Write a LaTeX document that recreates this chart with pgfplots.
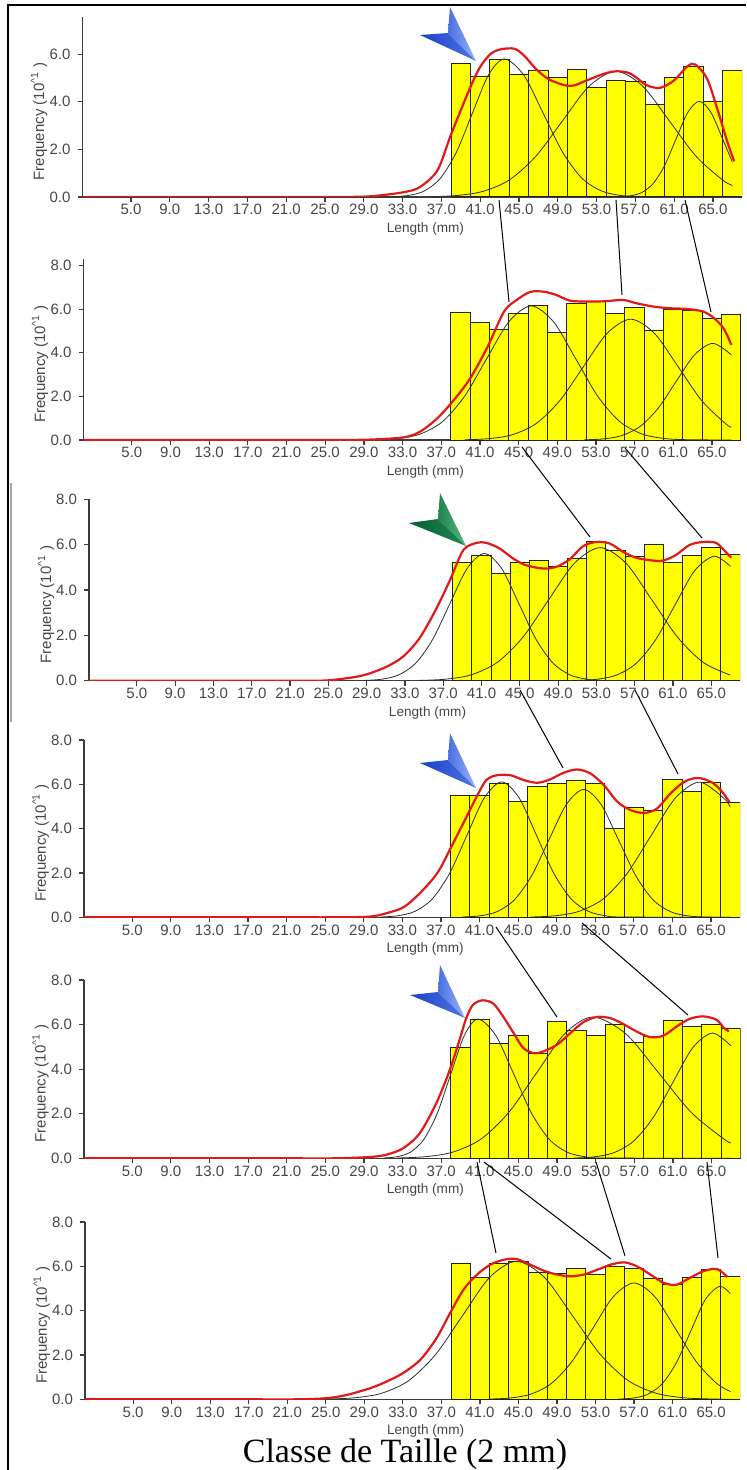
\documentclass[border=0pt]{standalone}
\usepackage{pgfplots}
\pgfplotsset{compat=1.18}
\usepackage{pgfplotstable}
\usepackage{fontspec}
\setmainfont{Liberation Sans}
\newfontfamily\seriffont{Liberation Serif}

\definecolor{axgray}{RGB}{60,60,60}
\definecolor{lblgray}{RGB}{70,70,70}
\definecolor{baryellow}{RGB}{255,255,0}
\definecolor{barline}{RGB}{35,35,10}
\definecolor{fitred}{RGB}{225,25,25}
\definecolor{compblack}{RGB}{45,45,45}
\definecolor{blueD}{RGB}{25,65,200}
\definecolor{blueL}{RGB}{150,180,255}
\definecolor{greenD}{RGB}{0,95,50}
\definecolor{greenL}{RGB}{80,185,125}

% bar heights, one column per panel (top to bottom), bins of 2 mm
\pgfplotstableread{
x  p1   p2   p3   p4   p5   p6
39 5.61 5.84 5.21 5.48 4.95 6.15
41 5.08 5.38 5.54 5.48 6.25 5.48
43 5.78 5.08 4.73 6.04 5.17 6.15
45 5.16 5.81 5.21 5.21 5.50 6.23
47 5.32 6.15 5.29 5.92 4.72 5.70
49 5.02 4.94 5.02 6.04 6.14 5.67
51 5.37 6.27 5.39 6.19 5.72 5.90
53 4.59 6.35 6.12 6.04 5.52 5.63
55 4.89 5.81 5.76 4.01 6.02 6.00
57 4.86 6.07 5.49 4.95 5.20 5.90
59 3.88 5.02 6.02 4.80 5.45 5.44
61 5.02 5.99 5.21 6.23 6.17 5.17
63 5.50 5.96 5.54 5.69 5.92 5.48
65 4.03 5.58 5.87 6.07 6.02 5.88
67 5.32 5.76 5.58 5.17 5.84 5.52
}\bars

\pgfplotsset{
  lenpanel/.style={
    scale only axis,
    xmin=0, xmax=68, ymin=0,
    axis x line*=bottom, axis y line*=left,
    axis line style={-, draw=axgray, line width=0.7pt},
    tick align=outside,
    major tick length=2.5pt,
    tick style={axgray, line width=0.6pt},
    xtick={5,9,...,65},
    ytick={0,2,...,8},
    tick label style={font=\fontsize{7.5}{9}\selectfont, text=lblgray},
    xticklabel style={inner sep=1pt},
    /pgf/number format/fixed,
    /pgf/number format/fixed zerofill,
    /pgf/number format/precision=1,
    /pgf/number format/assume math mode=true,
    xlabel={Length (mm)},
    xlabel style={font=\fontsize{6.8}{8}\selectfont, text=lblgray, inner sep=0.5pt,
      at={(axis description cs:0.52,-0.178)}, anchor=center},
    ylabel={Frequency (10\textsuperscript{\textasciicircum1} )},
    ylabel style={font=\fontsize{7.5}{9}\selectfont, text=lblgray,
      at={(axis description cs:-0.066,0.42)}, anchor=center},
    no markers,
  },
  barplot/.style={ybar, bar width=2, bar shift=0pt, fill=baryellow, draw=barline, line width=0.5pt},
  fit/.style={fitred, line width=1.1pt, smooth, tension=0.5},
  comp/.style={compblack, line width=0.4pt, smooth},
}

\newcommand{\arrowhead}[6]{%
  \shade[left color=#5, right color=#5!55!#6] #1 -- #4 -- #3 -- cycle;
  \shade[left color=#5!60!#6, right color=#6] #2 -- #4 -- #3 -- cycle;}

\begin{document}
\begin{tikzpicture}

% ---------- panel 1 ----------
\begin{axis}[lenpanel, at={(41.25pt,-98.5pt)}, anchor=south west,
  width=329.75pt, height=90pt, ymax=7.56]
\addplot[barplot] table[x=x, y=p1] {\bars};
\addplot[comp] coordinates {(31.95,0.013) (33.6,0.064) (35.25,0.255) (36.9,0.785) (38.55,1.883) (40.2,3.518) (41.85,5.119) (43.5,5.8) (45.5,5.119) (47.5,3.518) (49.5,1.883) (51.5,0.785) (53.5,0.255) (55.5,0.064) (57.5,0.013) (59.5,0.002) (67,0)};
\addplot[comp] coordinates {(35.75,0.012) (38.5,0.059) (41.25,0.232) (44,0.714) (46.75,1.714) (49.5,3.202) (52.25,4.66) (55,5.28) (57.75,4.66) (60.5,3.202) (63.25,1.714) (66,0.714) (67,0.489)};
\addplot[comp] coordinates {(54,0.001) (55.2,0.009) (56.4,0.045) (57.6,0.176) (58.8,0.544) (60,1.305) (61.2,2.438) (62.4,3.548) (63.6,4.02) (64.8,3.548) (66,2.438) (67,1.474)};
\addplot[fit] coordinates {(0,0) (20,0) (26,0) (29.7,0.03) (33.1,0.2) (34.8,0.42) (36.6,1.12) (37.9,2.52) (39.0,3.64) (40.0,4.62) (41.0,5.46) (42.1,6.02) (43.1,6.2) (44.5,6.23) (45.5,5.95) (46.9,5.32) (48.3,4.9) (50.3,4.66) (52.0,4.9) (53.8,5.18) (55.1,5.28) (56.5,5.18) (58.2,4.69) (59.6,4.59) (61.0,4.9) (62.4,5.5) (63.2,5.56) (64.4,4.97) (65.5,3.64) (66.5,2.3) (67.2,1.5)};
\end{axis}

% ---------- panel 2 ----------
\begin{axis}[lenpanel, at={(41.75pt,-220pt)}, anchor=south west,
  width=328.75pt, height=90.5pt, ymax=8.3]
\addplot[barplot] table[x=x, y=p2] {\bars};
\addplot[comp] coordinates {(30.2,0.014) (32.5,0.068) (34.8,0.27) (37.1,0.832) (39.4,1.997) (41.7,3.73) (44,5.427) (46.3,6.15) (48.6,5.427) (50.9,3.73) (53.2,1.997) (55.5,0.832) (57.8,0.27) (60.1,0.068) (62.4,0.014) (67,0)};
\addplot[comp] coordinates {(39.45,0.012) (41.9,0.061) (44.35,0.243) (46.8,0.75) (49.25,1.799) (51.7,3.36) (54.15,4.889) (56.6,5.54) (59.05,4.889) (61.5,3.36) (63.95,1.799) (66.4,0.75) (67,0.583)};
\addplot[comp] coordinates {(51.8,0.01) (53.7,0.049) (55.6,0.194) (57.5,0.599) (59.4,1.438) (61.3,2.687) (63.2,3.909) (65.1,4.43) (67,3.909)};
\addplot[fit] coordinates {(0,0) (20,0) (26,0) (29.7,0.02) (33.1,0.12) (34.8,0.38) (36.6,1.0) (38.3,1.83) (40.0,2.83) (41.8,4.28) (43.5,5.89) (44.8,6.42) (46.2,6.79) (47.6,6.8) (48.9,6.65) (50.3,6.39) (52.0,6.35) (53.8,6.36) (55.8,6.42) (57.2,6.27) (58.9,6.12) (60.7,6.04) (62.4,6.01) (64.1,5.89) (65.1,5.63) (66.2,5.12) (67.0,4.36)};
\end{axis}

% ---------- panel 3 ----------
\begin{axis}[lenpanel, at={(44.5pt,-340.35pt)}, anchor=south west,
  width=325.5pt, height=90.7pt, ymax=8]
\addplot[barplot] table[x=x, y=p3] {\bars};
\addplot[comp] coordinates {(28.7,0.012) (30.5,0.062) (32.3,0.246) (34.1,0.759) (35.9,1.822) (37.7,3.402) (39.5,4.951) (41.3,5.61) (43.1,4.951) (44.9,3.402) (46.7,1.822) (48.5,0.759) (50.3,0.246) (52.1,0.062) (53.9,0.012) (67,0)};
\addplot[comp] coordinates {(34.5,0.013) (37.2,0.065) (39.9,0.258) (42.6,0.794) (45.3,1.906) (48,3.56) (50.7,5.18) (53.4,5.87) (56.1,5.18) (58.8,3.56) (61.5,1.906) (64.2,0.794) (67,0.246)};
\addplot[comp] coordinates {(50.95,0.012) (53,0.061) (55.05,0.241) (57.1,0.743) (59.15,1.783) (61.2,3.33) (63.25,4.845) (65.3,5.49) (67,5.04)};
\addplot[fit] coordinates {(0,0) (18,0) (24,0) (26,0.06) (28,0.18) (29.3,0.32) (31.1,0.62) (32.8,1.06) (34.5,1.86) (36.2,3.11) (37.7,4.43) (39.1,5.76) (40.5,6.08) (41.5,6.08) (42.9,5.83) (44.3,5.39) (45.6,5.1) (47.4,4.95) (48.8,5.02) (50.2,5.35) (51.6,5.93) (53.0,6.12) (54.4,6.05) (55.8,5.68) (57.1,5.43) (58.5,5.32) (59.9,5.29) (61.3,5.54) (62.7,5.98) (64.1,6.12) (65.5,6.08) (66.5,5.68) (67.1,5.43)};
\end{axis}

% ---------- panel 4 ----------
\begin{axis}[lenpanel, at={(42pt,-458.65pt)}, anchor=south west,
  width=328pt, height=88.65pt, ymax=8]
\addplot[barplot] table[x=x, y=p4] {\bars};
\addplot[comp] coordinates {(30.7,0.013) (32.5,0.068) (34.3,0.268) (36.1,0.827) (37.9,1.984) (39.7,3.706) (41.5,5.392) (43.3,6.11) (45.1,5.392) (46.9,3.706) (48.7,1.984) (50.5,0.827) (52.3,0.268) (54.1,0.068) (55.9,0.013) (67,0)};
\addplot[comp] coordinates {(39.2,0.013) (41,0.064) (42.8,0.253) (44.6,0.781) (46.4,1.874) (48.2,3.5) (50,5.092) (51.8,5.77) (53.6,5.092) (55.4,3.5) (57.2,1.874) (59,0.781) (60.8,0.253) (62.6,0.064) (64.4,0.013) (67,0.001)};
\addplot[comp] coordinates {(46.3,0.013) (48.8,0.068) (51.3,0.268) (53.8,0.825) (56.3,1.981) (58.8,3.7) (61.3,5.383) (63.8,6.1) (66.3,5.383) (67,4.97)};
\addplot[fit] coordinates {(0,0) (20,0) (26,0) (29.6,0.03) (31.3,0.18) (33.1,0.45) (34.8,1.08) (36.6,1.98) (37.9,3.03) (39.3,4.23) (40.7,5.44) (41.7,6.19) (42.8,6.41) (44.2,6.41) (45.6,6.19) (47.0,6.07) (48.3,6.22) (49.7,6.52) (51.1,6.67) (52.5,6.49) (53.9,5.96) (55.3,5.21) (56.7,4.83) (58.1,4.71) (59.4,4.91) (60.8,5.59) (62.2,6.11) (63.6,6.29) (65.0,6.11) (66.0,5.74) (66.9,5.21)};
\end{axis}

% ---------- panel 5 ----------
\begin{axis}[lenpanel, at={(42pt,-579.15pt)}, anchor=south west,
  width=328.25pt, height=89.15pt, ymax=8]
\addplot[barplot] table[x=x, y=p5] {\bars};
\addplot[comp] coordinates {(31.0,0.014) (32.4,0.069) (33.8,0.274) (35.2,0.846) (36.6,2.029) (38.0,3.791) (39.4,5.516) (40.8,6.25) (42.65,5.516) (44.5,3.791) (46.35,2.029) (48.2,0.846) (50.05,0.274) (51.9,0.069) (53.75,0.014) (67,0)};
\addplot[comp] coordinates {(32.4,0.014) (35.3,0.07) (38.2,0.278) (41.1,0.858) (44,2.059) (46.9,3.845) (49.8,5.595) (52.7,6.34) (56.1,5.595) (59.5,3.845) (62.9,2.059) (66.3,0.858) (67,0.695)};
\addplot[comp] coordinates {(50.75,0.012) (52.8,0.062) (54.85,0.247) (56.9,0.76) (58.95,1.825) (61,3.409) (63.05,4.96) (65.1,5.62) (67,5.05)};
\addplot[fit] coordinates {(0,0) (20,0) (26,0) (29.6,0.06) (31.3,0.16) (33.1,0.46) (34.8,1.14) (36.5,2.48) (37.9,3.98) (38.9,5.32) (39.6,6.29) (40.3,6.89) (41.3,7.09) (42.4,6.94) (43.4,6.37) (44.5,5.62) (45.5,4.95) (46.6,4.72) (47.6,4.8) (49.0,5.1) (50.3,5.59) (51.7,6.1) (53.1,6.34) (54.5,6.29) (55.8,6.04) (57.2,5.7) (58.6,5.44) (60.0,5.5) (61.4,5.92) (62.7,6.25) (64.1,6.37) (65.5,6.22) (66.3,5.84) (66.8,5.7)};
\end{axis}

% ---------- panel 6 ----------
\begin{axis}[lenpanel, at={(42.5pt,-699.65pt)}, anchor=south west,
  width=327.5pt, height=88.65pt, ymax=8]
\addplot[barplot] table[x=x, y=p6] {\bars};
\addplot[comp] coordinates {(25.2,0.014) (28,0.069) (30.8,0.273) (33.6,0.843) (36.4,2.023) (39.2,3.779) (42,5.498) (44.8,6.23) (47.7,5.498) (50.6,3.779) (53.5,2.023) (56.4,0.843) (59.3,0.273) (62.2,0.069) (65.1,0.014) (67,0.003)};
\addplot[comp] coordinates {(41.95,0.012) (44.1,0.058) (46.25,0.23) (48.4,0.71) (50.55,1.705) (52.7,3.184) (54.85,4.633) (57,5.25) (59.15,4.633) (61.3,3.184) (63.45,1.705) (65.6,0.71) (67,0.351)};
\addplot[comp] coordinates {(55.4,0.011) (56.9,0.057) (58.4,0.224) (59.9,0.69) (61.4,1.656) (62.9,3.093) (64.4,4.501) (65.9,5.1) (67,4.77)};
\addplot[fit] coordinates {(0,0) (16,0) (22,0) (25,0.05) (27,0.18) (29.6,0.5) (31.3,0.8) (33.0,1.18) (34.8,1.78) (36.5,2.76) (37.9,3.89) (39.3,4.95) (40.7,5.63) (42.1,6.08) (43.5,6.3) (44.8,6.33) (46.2,6.08) (47.6,5.81) (49.0,5.63) (50.4,5.55) (51.8,5.63) (53.2,5.85) (54.6,6.08) (56.0,6.18) (57.3,6.0) (58.7,5.63) (60.1,5.25) (61.4,5.17) (62.8,5.48) (64.2,5.78) (65.6,5.88) (66.7,5.52)};
\end{axis}

% ---------- annotations (pixel grid of the original figure) ----------
\begin{scope}[x=0.5pt, y=-0.5pt]
  % frame
  \draw[black, line width=1pt] (8,1470) -- (8,5) -- (746,5);
  \draw[gray!70, line width=1pt] (11,483) -- (11,722);
  % links between modes of successive panels
  \begin{scope}[black, line width=0.5pt]
    \draw (499,200) -- (509,302);
    \draw (616,200) -- (622,295);
    \draw (685,200) -- (711,312);
    \draw (522,447) -- (590,537);
    \draw (625,448) -- (702,538);
    \draw (520,690) -- (563,768);
    \draw (635,690) -- (678,774);
    \draw (496,927) -- (557,1017);
    \draw (582,923) -- (688,1015);
    \draw (477,1162) -- (496,1253);
    \draw (484,1162) -- (611,1259);
    \draw (596,1162) -- (625,1256);
    \draw (707,1162) -- (718,1258);
  \end{scope}
  % arrowheads
  \arrowhead{(420,35)}{(450,7)}{(476,61)}{(448,33)}{blueD}{blueL}
  \arrowhead{(409,523)}{(440,493)}{(466,546)}{(438,519)}{greenD}{greenL}
  \arrowhead{(420,763)}{(450,733)}{(476,788)}{(448,760)}{blueD}{blueL}
  \arrowhead{(410,995)}{(440,965)}{(465,1018)}{(438,992)}{blueD}{blueL}
  % bottom caption
  \node[font=\seriffont\fontsize{17}{20}\selectfont, anchor=base] at (405,1462) {Classe de Taille (2 mm)};
  \pgfresetboundingbox
  \path[use as bounding box] (0,0) rectangle (746,1470);
\end{scope}

\end{tikzpicture}
\end{document}
